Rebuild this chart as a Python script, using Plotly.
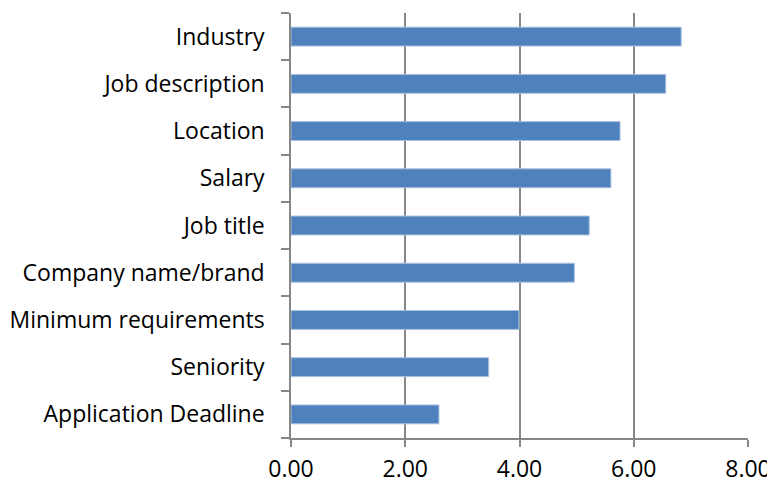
import plotly.graph_objects as go

categories = ["Industry", "Job description", "Location", "Salary", "Job title",
              "Company name/brand", "Minimum requirements", "Seniority",
              "Application Deadline"]
values = [6.83, 6.56, 5.76, 5.60, 5.22, 4.96, 3.99, 3.46, 2.59]
x_ticks = [0, 2, 4, 6, 8]
x_tick_labels = ["0.00", "2.00", "4.00", "6.00", "8.00"]

cats = categories[::-1]
vals = values[::-1]

fig = go.Figure(go.Bar(
    y=cats, x=vals, orientation="h",
    marker=dict(color="#4F81BD", line=dict(color="#A9C1E0", width=1)),
    width=0.4,
))

font_family = "'Open Sans', sans-serif"
fig.update_layout(
    width=767, height=478,
    margin=dict(l=283, r=27, t=5, b=48, autoexpand=False),
    paper_bgcolor="white", plot_bgcolor="white",
    font=dict(family=font_family, size=23, color="black"),
    showlegend=False,
    bargap=0.6,
)
fig.update_xaxes(
    range=[0, 8], tickvals=x_ticks, ticktext=x_tick_labels,
    showgrid=True, gridcolor="#878787", gridwidth=1.5,
    ticks="outside", ticklen=7, tickcolor="#878787", tickwidth=1.5,
    showline=True, linecolor="#878787", linewidth=1.5,
    zeroline=False, tickfont=dict(size=23, color="black"),
    automargin=False, ticklabelstandoff=3,
)
fig.update_yaxes(
    categoryorder="array", categoryarray=cats,
    showgrid=False, ticks="outside", ticklen=8, tickcolor="#878787", tickwidth=1.5,
    tickson="boundaries",
    showline=True, linecolor="#878787", linewidth=1.5,
    tickfont=dict(size=23, color="black"), ticklabelstandoff=20,
    automargin=False,
)
fig.write_html("out.html")
